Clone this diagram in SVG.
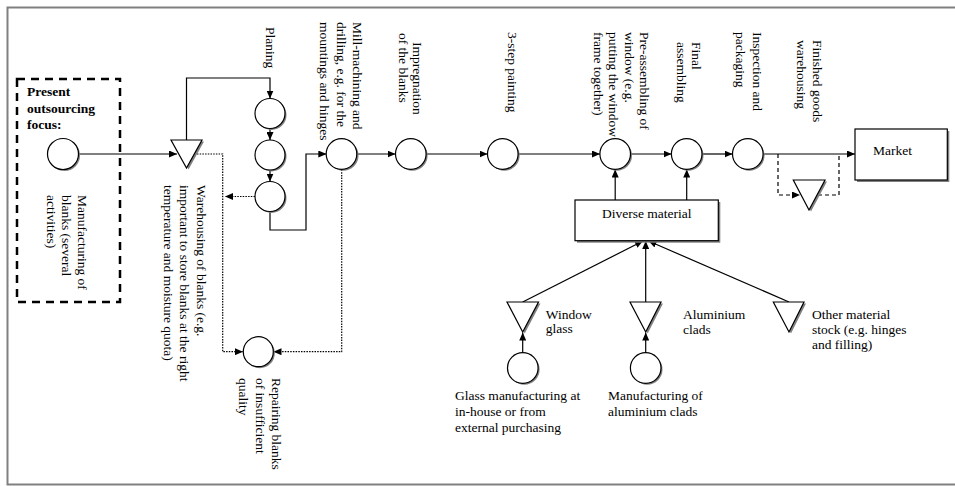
<svg xmlns="http://www.w3.org/2000/svg" width="955" height="486" viewBox="0 0 955 486">
  <defs>
    <marker id="arr" viewBox="0 0 8 7" refX="8" refY="3.5" markerWidth="8" markerHeight="7" markerUnits="userSpaceOnUse" orient="auto">
      <path d="M0,0 L8,3.5 L0,7 z" fill="#000"/>
    </marker>
    <style>
      .t { font-family: "Liberation Serif", "Times New Roman", serif; font-size: 13.5px; fill: #000; }
      .b { font-weight: bold; }
      .node { fill: #fff; stroke: #000; stroke-width: 1.2; }
      .shd { fill: #808080; stroke: none; }
      .ln { fill: none; stroke: #000; stroke-width: 1.2; }
      .dot { fill: none; stroke: #000; stroke-width: 1.2; stroke-dasharray: 1.5 1.2; }
      .dash { fill: none; stroke: #000; stroke-width: 1.2; stroke-dasharray: 4 3; }
    </style>
  </defs>

  <rect width="955" height="486" fill="#fff"/>
  <!-- outer frame -->
  <path d="M955,7.5 H7.5 V484.5 H955" fill="none" stroke="#808080" stroke-width="2"/>

  <!-- connectors -->
  <g id="connectors">
    <line class="ln" x1="78.5" y1="154" x2="177" y2="154" marker-end="url(#arr)"/>
    <path class="ln" d="M186.5,140 V78 H270 V98.5" marker-end="url(#arr)"/>
    <line class="ln" x1="270" y1="128.5" x2="270" y2="140" marker-end="url(#arr)"/>
    <line class="ln" x1="270" y1="170" x2="270" y2="181.5" marker-end="url(#arr)"/>
    <path class="ln" d="M270,211.5 V230 H306 V154 H326.3" marker-end="url(#arr)"/>
    <line class="ln" x1="356.8" y1="154" x2="395.5" y2="154" marker-end="url(#arr)"/>
    <line class="ln" x1="426" y1="154" x2="487.5" y2="154" marker-end="url(#arr)"/>
    <line class="ln" x1="518" y1="154" x2="600" y2="154" marker-end="url(#arr)"/>
    <line class="ln" x1="630.5" y1="154" x2="671.5" y2="154" marker-end="url(#arr)"/>
    <line class="ln" x1="702" y1="154" x2="732.5" y2="154" marker-end="url(#arr)"/>
    <line class="ln" x1="763" y1="154" x2="855" y2="154" marker-end="url(#arr)"/>
    <!-- finished goods warehousing loop -->
    <path class="dash" d="M778,154 V195 H800" marker-end="url(#arr)"/>
    <path class="dash" d="M818,195 H839 V154"/>
    <!-- diverse material feeds -->
    <line class="ln" x1="615.2" y1="200" x2="615.2" y2="169.5" marker-end="url(#arr)"/>
    <line class="ln" x1="686.7" y1="200" x2="686.7" y2="169.5" marker-end="url(#arr)"/>
    <line class="ln" x1="522.7" y1="302" x2="643" y2="241" marker-end="url(#arr)"/>
    <line class="ln" x1="645.7" y1="302" x2="645.7" y2="241" marker-end="url(#arr)"/>
    <line class="ln" x1="789" y1="302" x2="648.5" y2="241" marker-end="url(#arr)"/>
    <line class="ln" x1="522.7" y1="352.7" x2="522.7" y2="332.5" marker-end="url(#arr)"/>
    <line class="ln" x1="645.7" y1="352.7" x2="645.7" y2="332.5" marker-end="url(#arr)"/>
    <!-- repair loops -->
    <path class="dot" d="M197,154 H222.7 V351.7 H243" marker-end="url(#arr)"/>
    <line class="dot" x1="255" y1="196.5" x2="225" y2="196.5" marker-end="url(#arr)"/>
    <path class="dot" d="M341.7,169.5 V351.7 H273.5" marker-end="url(#arr)"/>
  </g>

  <!-- outsourcing focus area -->
  <g id="outsourcing">
    <rect x="17" y="79" width="103" height="223" fill="none" stroke="#000" stroke-width="2.5" stroke-dasharray="8 6"/>
    <text class="t b" x="27" y="96">Present</text>
    <text class="t b" x="27" y="112.5">outsourcing</text>
    <text class="t b" x="27" y="129">focus:</text>
  </g>

  <g id="manufacturing-blanks">
    <circle class="shd" cx="64.5" cy="155.5" r="15.5"/>
    <circle class="node" cx="63" cy="154" r="15.5"/>
    <g transform="translate(77.5,195) rotate(90)"><text class="t">Manufacturing of</text></g>
    <g transform="translate(62,195) rotate(90)"><text class="t">blanks (several</text></g>
    <g transform="translate(46.5,195) rotate(90)"><text class="t">activities)</text></g>
  </g>

  <g id="warehousing-blanks">
    <polygon class="shd" points="173,141.5 204,141.5 188.5,169.5"/>
    <polygon class="node" points="171,140 202,140 186.5,168"/>
    <g transform="translate(196.5,185) rotate(90)"><text class="t">Warehousing of blanks (e.g.</text></g>
    <g transform="translate(180,185) rotate(90)"><text class="t">important to store blanks at the right</text></g>
    <g transform="translate(163.5,185) rotate(90)"><text class="t">temperature and moisture quota)</text></g>
  </g>

  <g id="planing">
    <circle class="shd" cx="271.5" cy="115" r="15"/>
    <circle class="node" cx="270" cy="113.5" r="15"/>
    <circle class="shd" cx="271.5" cy="156.5" r="15"/>
    <circle class="node" cx="270" cy="155" r="15"/>
    <circle class="shd" cx="271.5" cy="198" r="15"/>
    <circle class="node" cx="270" cy="196.5" r="15"/>
    <g transform="translate(266,27) rotate(90)"><text class="t">Planing</text></g>
  </g>

  <g id="repairing">
    <circle class="shd" cx="259.8" cy="353.2" r="15"/>
    <circle class="node" cx="258.3" cy="351.7" r="15"/>
    <g transform="translate(271.5,378) rotate(90)"><text class="t">Repairing blanks</text></g>
    <g transform="translate(255.5,378) rotate(90)"><text class="t">of insufficient</text></g>
    <g transform="translate(239,378) rotate(90)"><text class="t">quality</text></g>
  </g>

  <g id="mill-machining">
    <circle class="shd" cx="343.2" cy="155.5" r="15.3"/>
    <circle class="node" cx="341.5" cy="154" r="15.3"/>
    <g transform="translate(353,22) rotate(90)"><text class="t">Mill-machining and</text></g>
    <g transform="translate(336.5,22) rotate(90)"><text class="t">drilling, e.g. for the</text></g>
    <g transform="translate(320,22) rotate(90)"><text class="t">mountings and hinges</text></g>
  </g>

  <g id="impregnation">
    <circle class="shd" cx="412.3" cy="155.5" r="15.3"/>
    <circle class="node" cx="410.8" cy="154" r="15.3"/>
    <g transform="translate(413,42) rotate(90)"><text class="t">Impregnation</text></g>
    <g transform="translate(399,33) rotate(90)"><text class="t">of the blanks</text></g>
  </g>

  <g id="painting">
    <circle class="shd" cx="504.3" cy="155.5" r="15.3"/>
    <circle class="node" cx="502.8" cy="154" r="15.3"/>
    <g transform="translate(508,32) rotate(90)"><text class="t">3-step painting</text></g>
  </g>

  <g id="pre-assembling">
    <circle class="shd" cx="616.7" cy="155.5" r="15.3"/>
    <circle class="node" cx="615.2" cy="154" r="15.3"/>
    <g transform="translate(640,32) rotate(90)"><text class="t">Pre-assembling of</text></g>
    <g transform="translate(624.5,32) rotate(90)"><text class="t">window (e.g.</text></g>
    <g transform="translate(609,32) rotate(90)"><text class="t">putting the window</text></g>
    <g transform="translate(593.5,32) rotate(90)"><text class="t">frame together)</text></g>
  </g>

  <g id="final-assembling">
    <circle class="shd" cx="688.2" cy="155.5" r="15.3"/>
    <circle class="node" cx="686.7" cy="154" r="15.3"/>
    <g transform="translate(691.5,42) rotate(90)"><text class="t">Final</text></g>
    <g transform="translate(676.5,42) rotate(90)"><text class="t">assembling</text></g>
  </g>

  <g id="inspection">
    <circle class="shd" cx="749.3" cy="155.5" r="15.3"/>
    <circle class="node" cx="747.8" cy="154" r="15.3"/>
    <g transform="translate(752.5,32) rotate(90)"><text class="t">Inspection and</text></g>
    <g transform="translate(736,32) rotate(90)"><text class="t">packaging</text></g>
  </g>

  <g id="finished-goods">
    <polygon class="shd" points="795.3,181.5 827,181.5 811,211.5"/>
    <polygon class="node" points="793.3,180 825,180 809,210"/>
    <g transform="translate(813,40) rotate(90)"><text class="t">Finished goods</text></g>
    <g transform="translate(797,40) rotate(90)"><text class="t">warehousing</text></g>
  </g>

  <g id="market">
    <rect class="shd" x="857" y="131" width="92.3" height="51"/>
    <rect class="node" x="855" y="129" width="92.3" height="51"/>
    <text class="t" x="873" y="155">Market</text>
  </g>

  <g id="diverse-material">
    <rect class="shd" x="577" y="202" width="143.3" height="40.7"/>
    <rect class="node" x="575" y="200" width="143.3" height="40.7"/>
    <text class="t" x="602" y="218">Diverse material</text>
  </g>

  <g id="window-glass">
    <polygon class="shd" points="509,303.5 540.5,303.5 524.7,333.5"/>
    <polygon class="node" points="507,302 538.5,302 522.7,332"/>
    <text class="t" x="545.7" y="319">Window</text>
    <text class="t" x="545.7" y="333">glass</text>
  </g>

  <g id="glass-manufacturing">
    <circle class="shd" cx="524.3" cy="369.5" r="15.3"/>
    <circle class="node" cx="522.8" cy="368" r="15.3"/>
    <text class="t" x="455" y="400">Glass manufacturing at</text>
    <text class="t" x="455" y="416">in-house or from</text>
    <text class="t" x="455" y="432">external purchasing</text>
  </g>

  <g id="aluminium-clads">
    <polygon class="shd" points="632,303.5 663,303.5 647.7,333.5"/>
    <polygon class="node" points="630,302 661,302 645.7,332"/>
    <text class="t" x="683" y="319">Aluminium</text>
    <text class="t" x="683" y="334">clads</text>
  </g>

  <g id="aluminium-manufacturing">
    <circle class="shd" cx="647.2" cy="369.5" r="15.3"/>
    <circle class="node" cx="645.7" cy="368" r="15.3"/>
    <text class="t" x="608" y="400">Manufacturing of</text>
    <text class="t" x="608" y="416">aluminium clads</text>
  </g>

  <g id="other-material">
    <polygon class="shd" points="775,303.5 806,303.5 791,333.5"/>
    <polygon class="node" points="773.3,302 804,302 789,332"/>
    <text class="t" x="812" y="319">Other material</text>
    <text class="t" x="812" y="334">stock (e.g. hinges</text>
    <text class="t" x="812" y="349">and filling)</text>
  </g>
</svg>
